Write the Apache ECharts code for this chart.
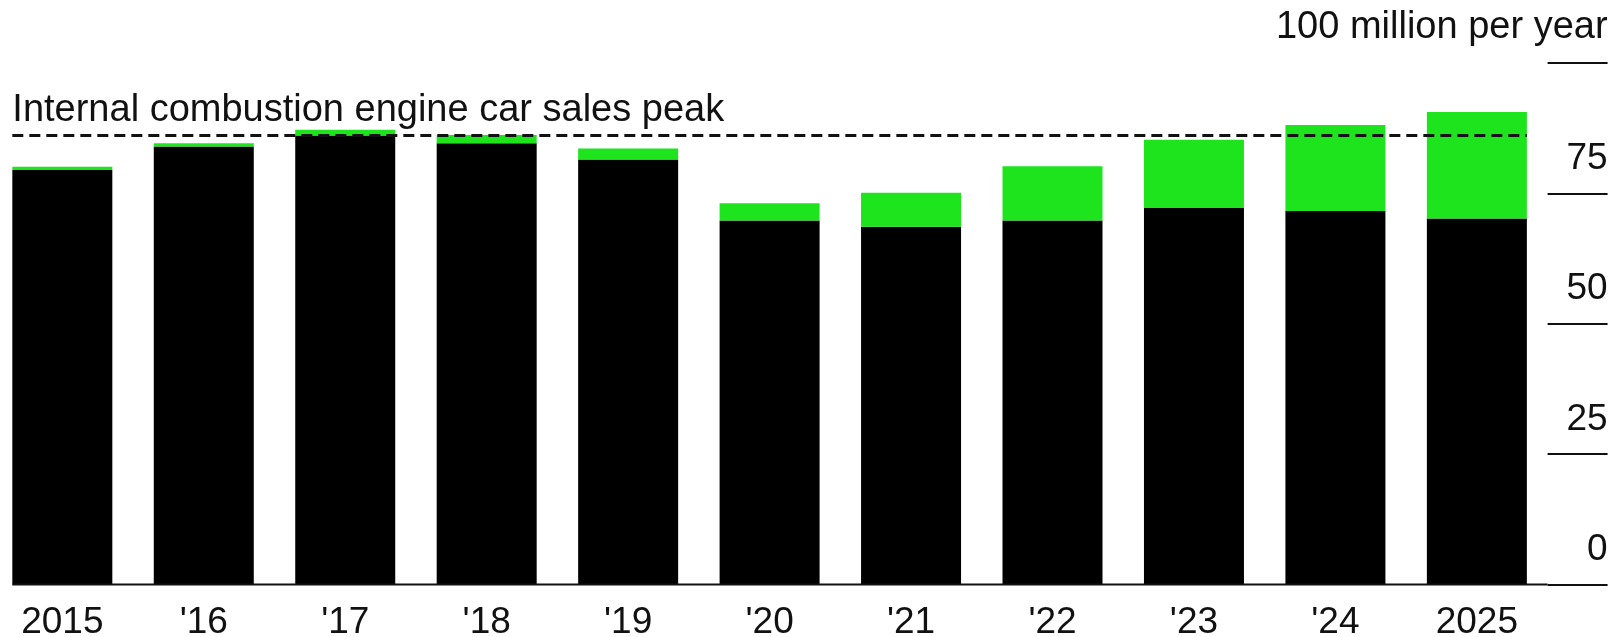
<!DOCTYPE html>
<html>
<head>
<meta charset="utf-8">
<script src="https://cdn.jsdelivr.net/npm/echarts@6/dist/echarts.min.js"></script>
<style>
  html, body { margin: 0; padding: 0; background: #ffffff; }
  #chart { width: 1613px; height: 637px; }
</style>
</head>
<body>
<div id="chart"></div>
<script>
// Global car sales, million units per year
const years = ['2015', "'16", "'17", "'18", "'19", "'20", "'21", "'22", "'23", "'24", '2025'];
const iceSales = [79.5, 84.0, 86.1, 84.6, 81.5, 69.8, 68.6, 69.8, 72.2, 71.6, 70.2];
const evSales = [0.6, 0.6, 1.1, 1.6, 2.1, 3.3, 6.5, 10.4, 13.1, 16.5, 20.4];
const yTicks = [0, 25, 50, 75, 100];
const unitLabel = '100 million per year';
const peakLabel = 'Internal combustion engine car sales peak';

const icePeak = Math.max(...iceSales);
const FONT = '"Liberation Sans", Arial, Helvetica, sans-serif';
const INK = '#111111';
const GREEN = '#1ee41e';
const BAR_W = 100;
const GRID_LEFT = -8.4;
const GRID_RIGHT = 65.4;

const chart = echarts.init(document.getElementById('chart'), null, { renderer: 'canvas' });

chart.setOption({
  animation: false,
  backgroundColor: '#ffffff',
  grid: {
    left: GRID_LEFT, right: GRID_RIGHT, top: 63, bottom: 52.5,
    containLabel: false, outerBoundsMode: 'none'
  },
  xAxis: {
    type: 'category',
    data: years,
    axisLine: { show: false },
    axisTick: { show: false },
    axisLabel: { color: INK, fontSize: 37, fontFamily: FONT, margin: 20 },
    splitLine: { show: false }
  },
  yAxis: {
    type: 'value',
    position: 'right',
    min: yTicks[0],
    max: yTicks[yTicks.length - 1],
    interval: yTicks[1] - yTicks[0],
    axisLine: { show: false },
    axisTick: { show: true, inside: false, length: 60, lineStyle: { color: INK, width: 2 } },
    splitLine: { show: false },
    axisLabel: {
      color: INK,
      fontSize: 37,
      fontFamily: FONT,
      margin: 60,
      align: 'right',
      verticalAlign: 'bottom',
      padding: [0, 0, 16, 0],
      formatter: v => (v === yTicks[yTicks.length - 1] ? '{u|' + unitLabel + '}' : String(v)),
      rich: { u: { fontSize: 38, fontFamily: FONT, color: INK } }
    }
  },
  series: [
    {
      name: 'Internal combustion engine',
      type: 'bar',
      stack: 'sales',
      barWidth: BAR_W,
      data: iceSales,
      itemStyle: { color: '#000000' }
    },
    {
      name: 'Electric',
      type: 'bar',
      stack: 'sales',
      barWidth: BAR_W,
      data: evSales,
      itemStyle: { color: GREEN }
    }
  ]
});

// Peak reference line, from the first bar's left edge to the last bar's right edge
const peakY = chart.convertToPixel({ yAxisIndex: 0 }, icePeak);
const zeroY = chart.convertToPixel({ yAxisIndex: 0 }, 0);
const firstX = chart.convertToPixel({ xAxisIndex: 0 }, 0) - BAR_W / 2;
const lastX = chart.convertToPixel({ xAxisIndex: 0 }, years.length - 1) + BAR_W / 2;
const gridRightX = chart.getWidth() - GRID_RIGHT;

chart.setOption({
  graphic: [
    {
      // baseline under the bars, continued by the zero tick on the right
      type: 'line',
      z: 10,
      shape: { x1: firstX, y1: zeroY, x2: gridRightX, y2: zeroY },
      style: { stroke: INK, lineWidth: 2 }
    },
    {
      type: 'line',
      z: 10,
      shape: { x1: firstX, y1: peakY, x2: lastX, y2: peakY },
      style: { stroke: INK, lineWidth: 3, lineDash: [11, 6] }
    },
    {
      type: 'text',
      z: 10,
      x: firstX,
      y: peakY - 25,
      style: {
        text: peakLabel,
        fill: INK,
        font: '38px ' + FONT,
        textAlign: 'left',
        textVerticalAlign: 'middle'
      }
    }
  ]
});
</script>
</body>
</html>
